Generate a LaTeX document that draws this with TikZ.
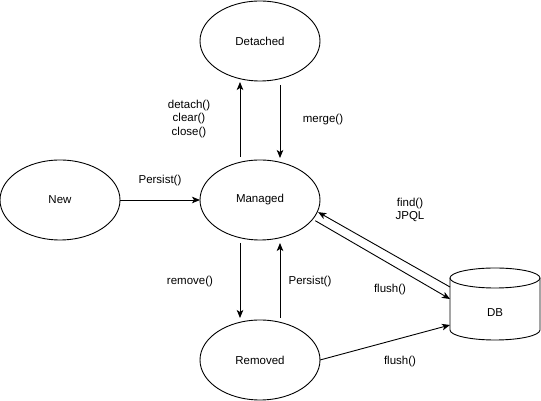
\documentclass[tikz,border=0pt]{standalone}
\usepackage{fontspec}
\setmainfont{Liberation Sans}
\usetikzlibrary{arrows.meta,shapes.geometric}
\tikzset{
  >={Stealth[length=8pt,width=6.5pt,inset=2pt]},
  state/.style={ellipse, draw=black, line width=.9pt, minimum width=120pt, minimum height=80pt, inner sep=0pt, outer sep=0pt},
  dbbox/.style={minimum width=90pt, minimum height=72pt, inner sep=0pt, outer sep=0pt},
  lbl/.style={align=center, inner sep=0pt},
  arrow/.style={->, draw=black, line width=.9pt}
}

\begin{document}
\begin{tikzpicture}[x=1pt,y=1pt,font=\fontsize{11.5}{13.5}\selectfont]
\useasboundingbox (0,0) rectangle (541,401);

% States
\node[state] (detached) at (260,360) {Detached};
\node[state] (new) at (60,201) {New};
\node[state] (managed) at (260,201) {Managed};
\node[state] (removed) at (260,41) {Removed};

% DB cylinder
\node[dbbox] (db) at (495,97) {};
\draw[line width=.9pt] ([yshift=-10]db.north west) -- ([yshift=10]db.south west)
  arc[start angle=180, end angle=360, x radius=45, y radius=10] -- ([yshift=-10]db.north east);
\draw[line width=.9pt] ([yshift=-10]db.north) ellipse[x radius=45, y radius=10];
\node (dbtext) at ([yshift=-9]db.center) {DB};

% Managed <-> Detached
\draw[arrow] ([xshift=-20,yshift=3]managed.north) -- ([xshift=-20,yshift=-1]detached.south);
\draw[arrow] ([xshift=20,yshift=-4]detached.south) -- ([xshift=20,yshift=2]managed.north);
\node[lbl] (detachlbl) at (189,282) {detach()\\clear()\\close()};
\node[lbl] (mergelbl) at (323,281) {merge()};

% New -> Managed
\draw[arrow] (new.east) -- (managed.west);
\node[lbl] (persistlbl) at (160,220) {Persist()};

% Managed <-> Removed
\draw[arrow] ([xshift=-20,yshift=-3]managed.south) -- ([xshift=-20,yshift=2]removed.north);
\draw[arrow] ([xshift=20,yshift=2]removed.north) -- ([xshift=20,yshift=-3]managed.south);
\node[lbl] (removelbl) at (190,119) {remove()};
\node[lbl] (repersistlbl) at (310,119) {Persist()};

% Managed <-> DB
\draw[arrow] ([yshift=17]db.west) -- ([xshift=1]managed.-12);
\draw[arrow] ([xshift=4]managed.-22) -- ([yshift=5]db.west);
\node[lbl] (findlbl) at (410,191) {find()\\JPQL};
\node[lbl] (flushlbl) at (390,111) {flush()};

% Removed -> DB
\draw[arrow] (removed.east) -- ([yshift=-21]db.west);
\node[lbl] (flushremlbl) at (400,39) {flush()};

\end{tikzpicture}
\end{document}
